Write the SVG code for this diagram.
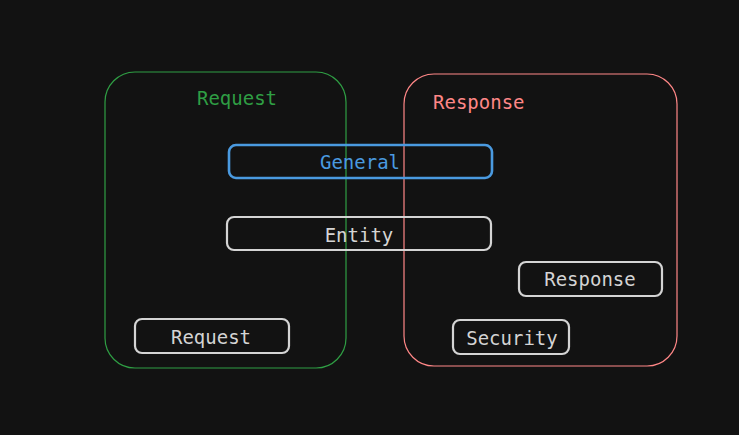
<svg xmlns="http://www.w3.org/2000/svg" width="739" height="435" viewBox="0 0 739 435">
<style>
text{font-family:"DejaVu Sans Mono","Liberation Mono",monospace;font-size:19px;}
.box{fill:none;stroke:#d4d4d4;stroke-width:2.2;}
.lbl{fill:#d4d4d4;text-anchor:middle;}
</style>
<rect width="739" height="435" fill="#121212"/>
<g id="request-group">
<rect x="105" y="72" width="241" height="296" rx="30" fill="none" stroke="#2f9e44" stroke-width="1.2"/>
<text x="237" y="105" fill="#2f9e44" text-anchor="middle">Request</text>
</g>
<g id="response-group">
<rect x="404" y="74" width="273" height="292" rx="30" fill="none" stroke="#ff8787" stroke-width="1.2"/>
<text x="433" y="109" fill="#ff8787">Response</text>
</g>
<g id="connectors"></g>
<g id="general">
<rect x="229" y="145" width="263" height="33" rx="7" fill="none" stroke="#4a9ae0" stroke-width="2.6"/>
<text x="360" y="169" fill="#4a9ae0" text-anchor="middle">General</text>
</g>
<g id="entity">
<rect class="box" x="227" y="217" width="264" height="33" rx="7"/>
<text class="lbl" x="359" y="242">Entity</text>
</g>
<g id="response">
<rect class="box" x="519" y="262" width="143" height="34" rx="7"/>
<text class="lbl" x="590" y="286">Response</text>
</g>
<g id="request">
<rect class="box" x="135" y="319" width="154" height="34" rx="7"/>
<text class="lbl" x="211" y="344">Request</text>
</g>
<g id="security">
<rect class="box" x="453" y="320" width="116" height="34" rx="7"/>
<text class="lbl" x="512" y="345">Security</text>
</g>
</svg>
